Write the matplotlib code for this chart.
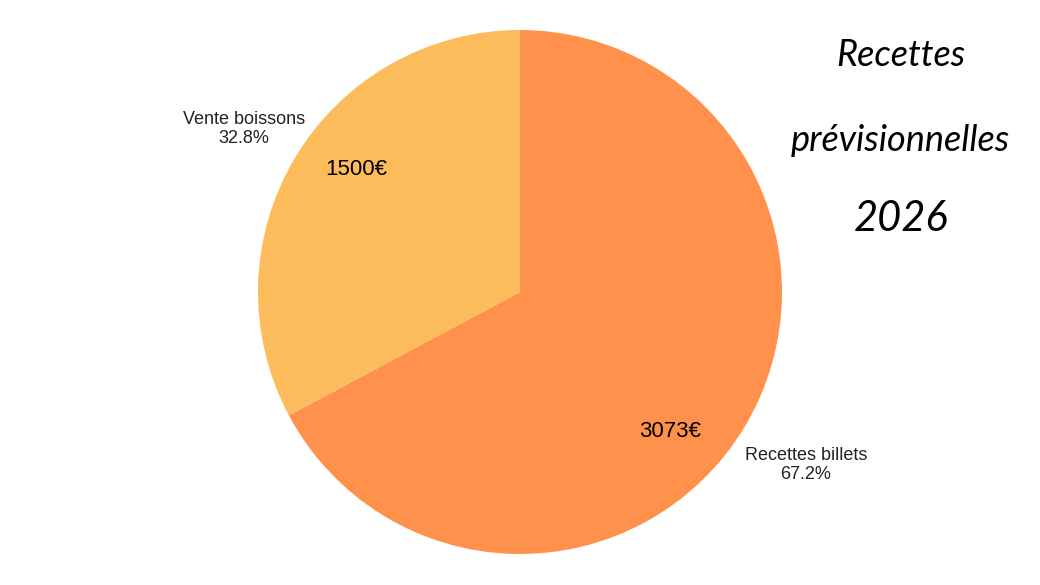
import numpy as np
import matplotlib
matplotlib.use('Agg')
import matplotlib.pyplot as plt
import matplotlib.transforms as mtransforms

plt.rcParams['font.family'] = ['Liberation Sans', 'DejaVu Sans']

# données
categories = ['Recettes billets', 'Vente boissons']
montants = [3073, 1500]
couleurs = ['#FF914D', '#FDBC5C']
titre = ['Recettes', 'prévisionnelles', '2026']

fig = plt.figure(figsize=(10.4, 5.85), dpi=100)
ax = fig.add_axes([258 / 1040, 31 / 585, 524 / 1040, 524 / 585])

total = sum(montants)
labels = [f'{c}\n{m / total * 100:.1f}%' for c, m in zip(categories, montants)]

wedges, texts, autotexts = ax.pie(
    montants, colors=couleurs, startangle=90, counterclock=False,
    labels=labels, labeldistance=1.25,
    autopct=lambda p: f'{p * total / 100:.0f}€', pctdistance=0.78,
    textprops=dict(fontsize=13, color='#222222'))

decal = mtransforms.offset_copy(ax.transData, fig=fig, x=5, y=-5, units='dots')
for t in texts:
    t.set_horizontalalignment('center')
    t.set_verticalalignment('center')
    t.set_linespacing(1.15)
    t.set_transform(decal)

# décalage angulaire des montants comme sur l'original
decalages = [-12, -6]
for w, at, d in zip(wedges, autotexts, decalages):
    ang = np.deg2rad((w.theta1 + w.theta2) / 2 + d)
    at.set_position((0.78 * np.cos(ang), 0.78 * np.sin(ang)))
    at.set_fontsize(16)
    at.set_color('black')

ax.set_xlim(-1, 1)
ax.set_ylim(-1, 1)
ax.set_aspect('equal')

# titre à droite
for y, txt, fs in zip([0.905, 0.76, 0.625], titre, [26, 26, 30]):
    fig.text(0.866, y, txt, ha='center', va='center', fontsize=fs,
             family=['Lato', 'DejaVu Sans'], fontweight='normal',
             style='italic', color='black')

fig.savefig('out.png', dpi=100, facecolor='white')
